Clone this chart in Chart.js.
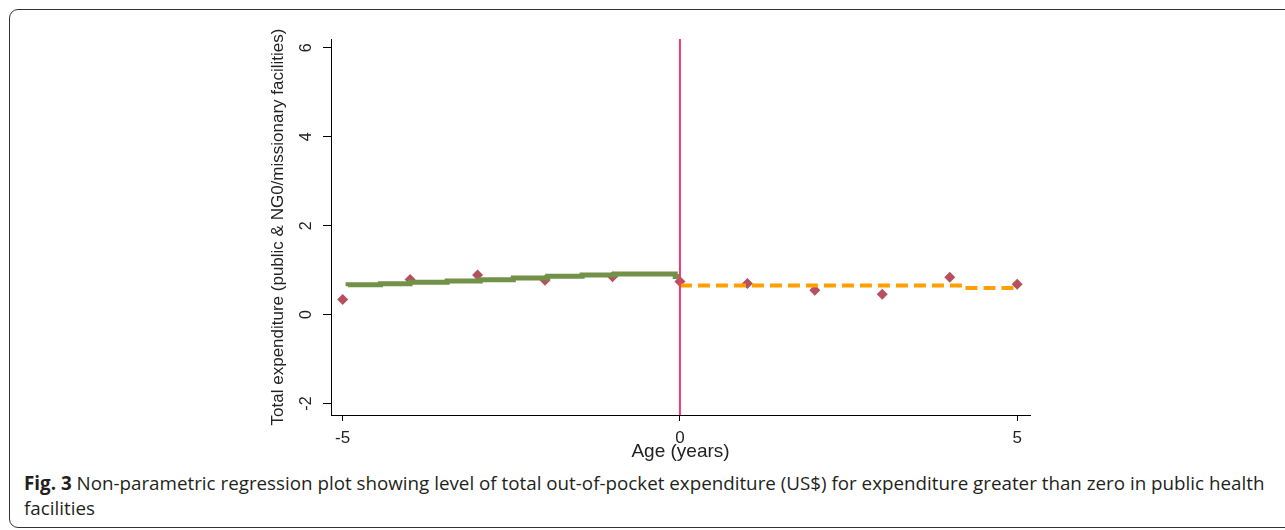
<!DOCTYPE html>
<html>
<head>
<meta charset="utf-8">
<script src="https://cdn.jsdelivr.net/npm/chart.js@4.4.1/dist/chart.umd.min.js"></script>
<style>
  html, body { margin: 0; padding: 0; background: #fff; width: 1285px; height: 530px; overflow: hidden; }
  #frame { position: absolute; left: 9px; top: 9px; width: 1300px; height: 519px; border: 1.5px solid #333; border-radius: 9px; box-sizing: border-box; }
  #wrap { position: absolute; left: 0; top: 0; width: 1285px; height: 470px; }
  #caption { position: absolute; left: 24px; top: 471px; width: 1255px; font-family: "Open Sans", sans-serif; font-size: 18.8px; line-height: 25px; color: #231f20; }
  #caption b { font-weight: 700; }
</style>
</head>
<body>
<div id="frame"></div>
<div id="wrap"><canvas id="c"></canvas></div>
<div id="caption"><b>Fig. 3</b> Non-parametric regression plot showing level of total out-of-pocket expenditure (US$) for expenditure greater than zero in public health facilities</div>
<script>
// ---- data ----
const ageBins = [-5, -4, -3, -2, -1, 0, 1, 2, 3, 4, 5];
const binMeans = [0.34, 0.79, 0.89, 0.775, 0.85, 0.745, 0.70, 0.55, 0.46, 0.84, 0.685];

const leftFitX = [-4.92, -4.44, -4.0, -3.45, -2.96, -2.47, -1.96, -1.45, -0.96, -0.44, -0.07, 0];
const leftFitY = [0.637, 0.674, 0.697, 0.727, 0.757, 0.787, 0.824, 0.861, 0.891, 0.914, 0.914, 0.86];

const rightFitX = [0, 4.2, 4.22, 4.95, 4.97];
const rightFitY = [0.655, 0.655, 0.60, 0.60, 0.63];

const xTicks = [-5, 0, 5];
const yTicks = [-2, 0, 2, 4, 6];
const cutoff = 0;
const xMin = -5.173, xMax = 5.19;
const yMin = -2.257, yMax = 6.2;

const pts = (xs, ys) => xs.map((x, i) => ({ x: x, y: ys[i] }));

new Chart(document.getElementById('c'), {
  type: 'scatter',
  data: {
    datasets: [
      {
        label: 'cutoff',
        type: 'line',
        data: [{ x: cutoff, y: yMin }, { x: cutoff, y: yMax }],
        borderColor: '#ec3a73',
        borderWidth: 2,
        pointRadius: 0,
        order: 1
      },
      {
        label: 'left fit',
        type: 'line',
        data: pts(leftFitX, leftFitY),
        borderColor: '#72924a',
        borderWidth: 5,
        stepped: 'after',
        pointRadius: 0,
        order: 2
      },
      {
        label: 'right fit',
        type: 'line',
        data: pts(rightFitX, rightFitY),
        borderColor: '#ffa000',
        borderWidth: 4,
        borderDash: [12, 6],
        stepped: 'after',
        pointRadius: 0,
        order: 3
      },
      {
        label: 'bin means',
        data: pts(ageBins, binMeans),
        pointStyle: 'rectRot',
        pointRadius: 5.5,
        backgroundColor: '#b5505d',
        borderColor: '#b5505d',
        borderWidth: 0,
        order: 4
      }
    ]
  },
  options: {
    responsive: true,
    maintainAspectRatio: false,
    animation: false,
    events: [],
    layout: { padding: { left: 268, right: 255, top: 39, bottom: 0 } },
    plugins: { legend: { display: false }, tooltip: { enabled: false } },
    scales: {
      x: {
        type: 'linear',
        min: xMin, max: xMax,
        afterBuildTicks: s => { s.ticks = xTicks.map(v => ({ value: v })); },
        afterFit: s => { s.height = 55; },
        grid: { drawOnChartArea: false, drawTicks: true, tickLength: 6, color: '#000' },
        border: { display: true, color: '#000', width: 1 },
        ticks: { color: '#222', padding: 7, maxRotation: 0, font: { family: 'Liberation Sans, Arial, sans-serif', size: 17 } },
        title: { display: true, text: 'Age (years)', color: '#222', padding: { top: 0, bottom: 7 }, font: { family: 'Liberation Sans, Arial, sans-serif', size: 19 } }
      },
      y: {
        type: 'linear',
        min: yMin, max: yMax,
        afterBuildTicks: s => { s.ticks = yTicks.map(v => ({ value: v })); },
        afterFit: s => { s.width = 63; },
        grid: { drawOnChartArea: false, drawTicks: true, tickLength: 8, color: '#000' },
        border: { display: true, color: '#000', width: 1 },
        ticks: { color: '#222', padding: 9, crossAlign: 'center', minRotation: 90, maxRotation: 90, font: { family: 'Liberation Sans, Arial, sans-serif', size: 16 } },
        title: { display: true, text: 'Total expenditure (public & NG0/missionary facilities)', color: '#222', padding: { top: 0, bottom: 0 }, font: { family: 'Liberation Sans, Arial, sans-serif', size: 17 } }
      }
    }
  }
});
</script>
</body>
</html>
